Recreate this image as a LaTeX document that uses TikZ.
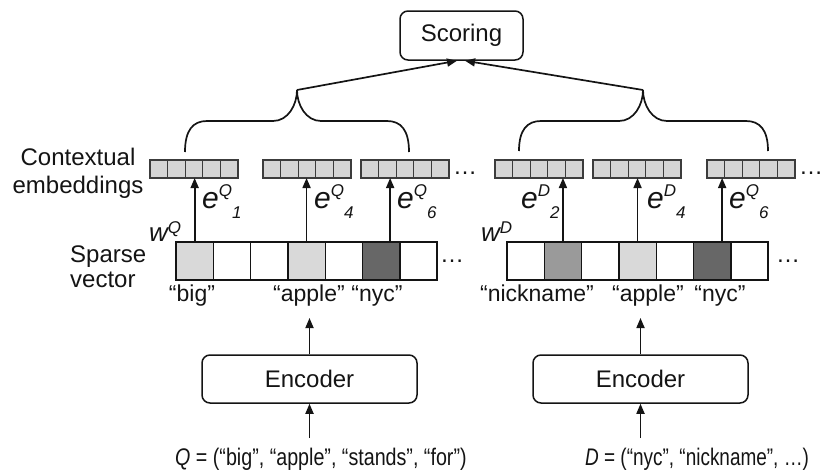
\documentclass[tikz,border=0pt]{standalone}
\usepackage{fontspec}
\setmainfont{Liberation Sans}
\usetikzlibrary{arrows.meta,calc}

\definecolor{ink}{HTML}{141414}
\definecolor{cellL}{HTML}{D9D9D9}
\definecolor{cellM}{HTML}{9A9A9A}
\definecolor{cellD}{HTML}{676767}
\definecolor{embfill}{HTML}{D5D5D5}
\definecolor{embline}{HTML}{3C3C3C}

\newcommand{\fsz}[1]{\fontsize{#1}{#1}\selectfont}
% e^{X}_{k}: large italic e, raised superscript, then lowered index
\newcommand{\elabel}[2]{{\fsz{30}\itshape e}\raisebox{12pt}{\fsz{17}\itshape #1}\raisebox{-10pt}{\fsz{17}\itshape #2}}
\newcommand{\wlabel}[1]{{\fsz{26}\itshape w}\raisebox{8pt}{\fsz{17}\itshape #1}}
% narrow setting of the input sequences
\newcommand{\seqtext}[2]{\scalebox{#1}[1]{#2}}

\begin{document}
\begin{tikzpicture}[x=1pt,y=-1pt,
  box/.style={draw=ink, line width=1.5pt, rounded corners=8pt, font=\fsz{24}, text=ink, inner sep=0pt},
  cell/.style={draw=ink, line width=1.4pt, minimum width=37.3pt, minimum height=38pt, inner sep=0pt, outer sep=0pt},
  emb/.style={draw=embline, fill=embfill, line width=1.3pt, minimum width=88pt, minimum height=18pt, inner sep=0pt, outer sep=0pt},
  arr/.style={draw=ink, line width=1.7pt, -{Triangle[length=10pt,width=8pt]}},
  brace/.style={draw=ink, line width=1.7pt},
  lbl/.style={font=\fsz{24}, text=ink, inner sep=0pt},
  term/.style={font=\fsz{23}, text=ink, inner sep=0pt},
  seq/.style={font=\fsz{24}, text=ink, inner sep=0pt},
]
\useasboundingbox (0,0) rectangle (823,471);

% scoring head
\node[box, minimum width=123pt, minimum height=49pt] (score) at (461.5,35.5) {Scoring};

% braces gathering each side's embeddings
\coordinate (tipQ) at (297,90);
\coordinate (tipD) at (643,90);
\draw[brace] (185,152) .. controls (185,130) and (193,121) .. (207,121) -- (273,121)
  .. controls (288,121) and (297,105) .. (tipQ)
  .. controls (297,105) and (306,121) .. (321,121) -- (387,121)
  .. controls (401,121) and (409,130) .. (409,152);
\draw[brace] (519,151) .. controls (519,130) and (527,121) .. (541,121) -- (619,121)
  .. controls (634,121) and (643,105) .. (tipD)
  .. controls (643,105) and (652,121) .. (667,121) -- (746,121)
  .. controls (760,121) and (768,130) .. (768,151);
\draw[arr] (tipQ) -- ($(score.south)+(-4.5,0)$);
\draw[arr] (tipD) -- ($(score.south)+(3.5,0)$);

% contextual embeddings
\foreach \nm/\cx in {eq1/194, eq4/307, eq6/405, ed2/539, ed4/637, ed6/751}{
  \node[emb] (\nm) at (\cx,169) {};
  \foreach \k in {1,...,4}
    \draw[embline, line width=1.3pt] ($(\nm.north west)+(\k*17.6,0)$) -- ($(\nm.south west)+(\k*17.6,0)$);
}
\node[lbl, anchor=base west] (dotsE1) at (453,174) {…};
\node[lbl, anchor=base west] (dotsE2) at (799,174) {…};

\node[lbl, anchor=base] (lab1) at (78,165) {Contextual};
\node[lbl, anchor=base] (lab2) at (78,193) {embeddings};
\node[lbl, anchor=base west] (lab3) at (70,262) {Sparse};
\node[lbl, anchor=base west] (lab4) at (70,287) {vector};

% sparse vectors
\foreach \k/\f in {1/cellL,2/white,3/white,4/cellL,5/white,6/cellD,7/white}
  \node[cell, fill=\f] (q\k) at ({194.65+37.3*(\k-1)},261) {};
\foreach \k/\f in {1/white,2/cellM,3/white,4/cellL,5/white,6/cellD,7/white}
  \node[cell, fill=\f] (d\k) at ({525.65+37.3*(\k-1)},261) {};
\node[lbl, anchor=base west] (dotsS1) at (440,262) {…};
\node[lbl, anchor=base west] (dotsS2) at (776,262) {…};

\node[anchor=base west, inner sep=0pt, text=ink] (wq) at (149,241) {\wlabel{Q}};
\node[anchor=base west, inner sep=0pt, text=ink] (wd) at (481,241) {\wlabel{D}};

% lookups from weighted terms to their embeddings
\path ([xshift=9pt]q6.north) coordinate (a6);
\path ([xshift=10pt]d6.north) coordinate (b6);
\draw[arr] (q1.north) -- (q1.north |- eq1.south);
\draw[arr] (q4.north) -- (q4.north |- eq4.south);
\draw[arr] (a6) -- (a6 |- eq6.south);
\draw[arr] (d2.north) -- (d2.north |- ed2.south);
\draw[arr] (d4.north) -- (d4.north |- ed4.south);
\draw[arr] (b6) -- (b6 |- ed6.south);

\node[anchor=base west, inner sep=0pt, text=ink] (e1) at (202,208) {\elabel{Q}{1}};
\node[anchor=base west, inner sep=0pt, text=ink] (e4) at (314,208) {\elabel{Q}{4}};
\node[anchor=base west, inner sep=0pt, text=ink] (e6) at (397,208) {\elabel{Q}{6}};
\node[anchor=base west, inner sep=0pt, text=ink] (f2) at (521,208) {\elabel{D}{2}};
\node[anchor=base west, inner sep=0pt, text=ink] (f4) at (647,208) {\elabel{D}{4}};
\node[anchor=base west, inner sep=0pt, text=ink] (f6) at (729,208) {\elabel{Q}{6}};

% term labels
\node[term, anchor=base] (tbig) at (192,301) {“big”};
\node[term, anchor=base] (tapq) at (309,301) {“apple”};
\node[term, anchor=base] (tnyq) at (377,301) {“nyc”};
\node[term, anchor=base] (tnick) at (537,301) {“nickname”};
\node[term, anchor=base] (tapd) at (648,301) {“apple”};
\node[term, anchor=base] (tnyd) at (720,301) {“nyc”};

% encoders
\node[box, minimum width=215pt, minimum height=48pt] (encQ) at (309.5,379) {Encoder};
\node[box, minimum width=215pt, minimum height=48pt] (encD) at (640.5,379) {Encoder};
\coordinate (outQ) at (309.5,318);
\coordinate (outD) at (640.5,318);
\coordinate (inQ) at (309.5,438);
\coordinate (inD) at (640.5,438);
\draw[arr] (encQ.north) -- (outQ);
\draw[arr] (encD.north) -- (outD);
\draw[arr] (inQ) -- (encQ.south);
\draw[arr] (inD) -- (encD.south);

\node[seq, anchor=base west] (qtext) at (175,465) {\seqtext{0.82}{\textit{Q} = (“big”, “apple”, “stands”, “for”)}};
\node[seq, anchor=base west] (dtext) at (585,465) {\seqtext{0.79}{\textit{D} = (“nyc”, “nickname”, …)}};
\end{tikzpicture}
\end{document}
